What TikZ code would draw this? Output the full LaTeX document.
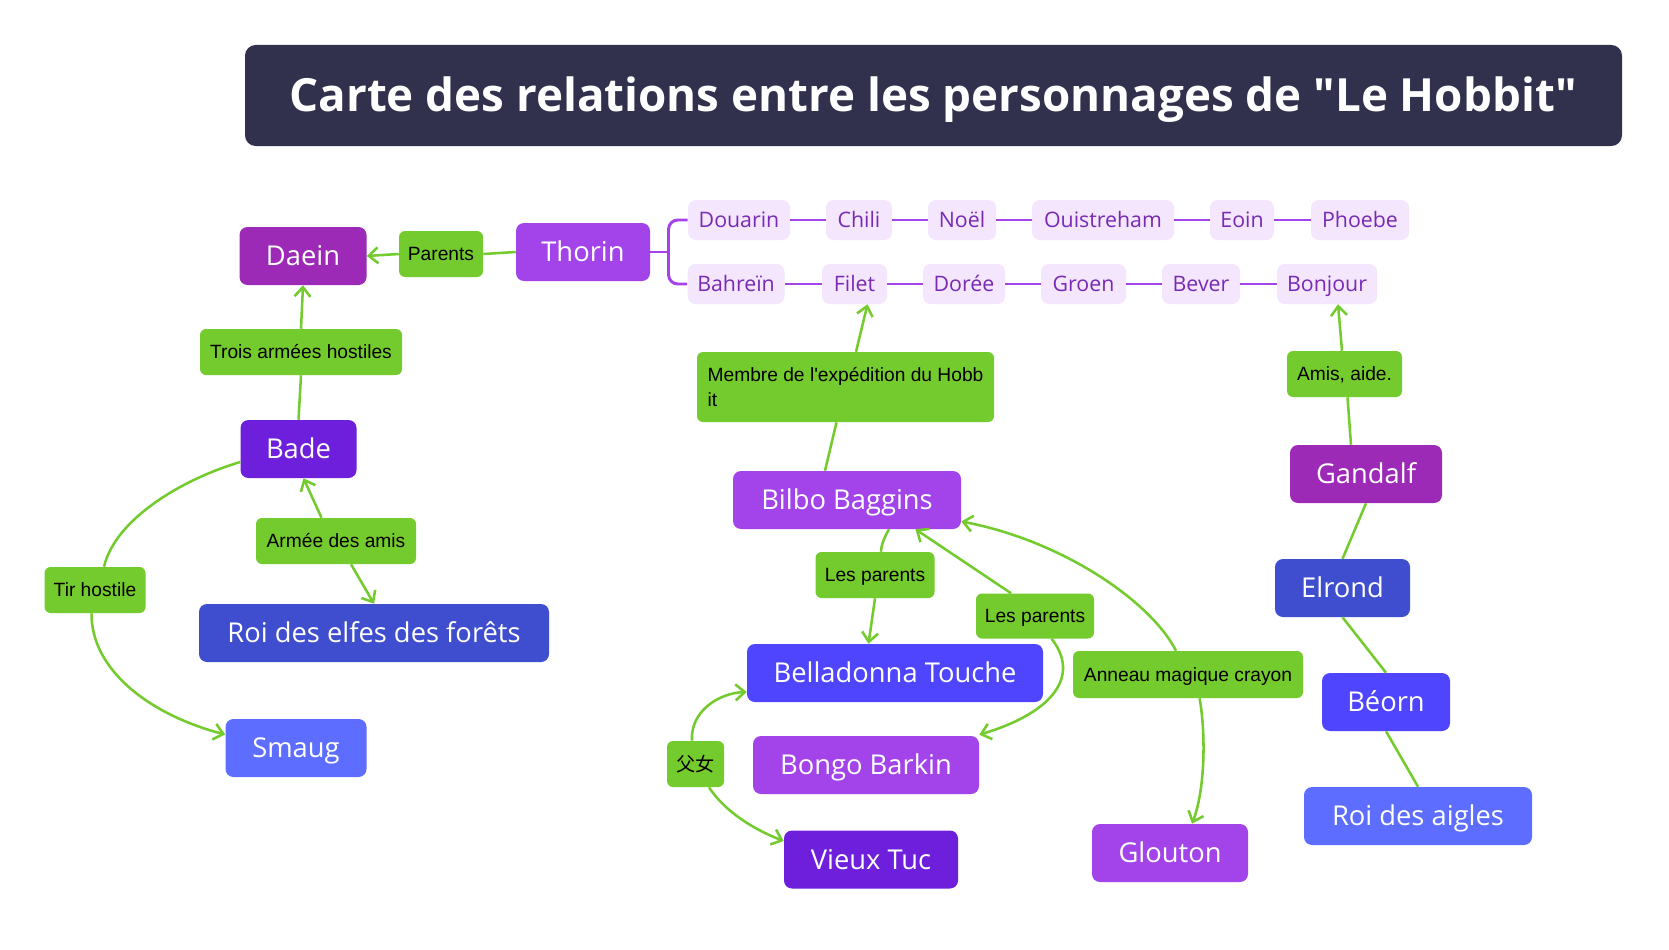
\documentclass[tikz,border=0pt]{standalone}
\usepackage{fontspec}
\setmainfont[Ligatures=TeXOff]{Open Sans}
\newfontfamily\lab[Ligatures=TeXOff]{Liberation Sans}
\newfontfamily\cjk{Noto Sans CJK SC}
\usetikzlibrary{arrows.meta,calc}
\definecolor{titlebg}{RGB}{49,48,77}
\definecolor{cMag}{RGB}{156,42,182}
\definecolor{cViolet}{RGB}{162,68,234}
\definecolor{cDeep}{RGB}{110,31,219}
\definecolor{cIndigo}{RGB}{62,78,206}
\definecolor{cBlue}{RGB}{79,69,255}
\definecolor{cSky}{RGB}{92,109,255}
\definecolor{gr}{RGB}{115,203,46}
\definecolor{lavfill}{RGB}{243,230,253}
\definecolor{lavtext}{RGB}{120,42,180}
\definecolor{lavline}{RGB}{163,68,235}
\begin{document}
\begin{tikzpicture}[x=0.75pt,y=-0.75pt,
  sz/.style 2 args={minimum width=#1*0.75pt, minimum height=#2*0.75pt},
  char/.style={rectangle, rounded corners=6pt, inner sep=0pt, text=white, font=\fontsize{20.5}{24}\selectfont, text height=14.7pt, text depth=0pt},
  mem/.style={rectangle, rounded corners=6pt, inner sep=0pt, fill=lavfill, text=lavtext, font=\fontsize{16}{19}\selectfont, text height=11.5pt, text depth=0pt},
  lblbase/.style={rectangle, rounded corners=4.5pt, inner sep=0pt, fill=gr, text=black, font=\lab\fontsize{14.4}{19}\selectfont},
  lbl/.style={lblbase, text height=10.3pt, text depth=0pt},
  gl/.style={draw=gr, line width=1.9pt},
  arr/.style={gl, -{Straight Barb[length=7pt,width=12pt]}},
  pl/.style={draw=lavline, line width=2.2pt},
]
\useasboundingbox (0,0) rectangle (1669,949);
\fill[white] (0,0) rectangle (1669,949);

% title
\node[fill=titlebg, rounded corners=8pt, inner sep=0pt, sz={1377}{101}, text=white, font=\bfseries\fontsize{34.3}{40}\selectfont, text height=24.6pt, text depth=0pt] (title) at (933.5,95.5) {Carte des relations entre les personnages de "Le Hobbit"};

% characters
\node[char, fill=cMag, sz={127}{58}] (daein) at (303,256) {Daein};
\node[char, fill=cViolet, sz={134}{58}] (thorin) at (583,252) {Thorin};
\node[char, fill=cDeep, sz={116}{58}] (bade) at (298.5,449) {Bade};
\node[char, fill=cIndigo, sz={350}{58}] (elfes) at (374,633) {Roi des elfes des forêts};
\node[char, fill=cSky, sz={141}{58}] (smaug) at (296,748) {Smaug};
\node[char, fill=cViolet, sz={228}{58}] (bilbo) at (847,500) {Bilbo Baggins};
\node[char, fill=cBlue, sz={296}{58}] (bella) at (895,673) {Belladonna Touche};
\node[char, fill=cViolet, sz={226}{58}] (bongo) at (866,765) {Bongo Barkin};
\node[char, fill=cDeep, sz={174}{58}] (vieux) at (871,859.5) {Vieux Tuc};
\node[char, fill=cViolet, sz={156}{58}] (glouton) at (1170,853) {Glouton};
\node[char, fill=cMag, sz={152}{58}] (gandalf) at (1366,474) {Gandalf};
\node[char, fill=cIndigo, sz={135}{58}] (elrond) at (1342.5,588) {Elrond};
\node[char, fill=cBlue, sz={128}{58}] (beorn) at (1386,702) {Béorn};
\node[char, fill=cSky, sz={228}{58}] (aigles) at (1418,816) {Roi des aigles};

% expedition members
\node[mem, sz={102}{40}] (douarin) at (739,220) {Douarin};
\node[mem, sz={66}{40}] (chili) at (859,220) {Chili};
\node[mem, sz={68}{40}] (noel) at (962,220) {Noël};
\node[mem, sz={142}{40}] (ouis) at (1103,220) {Ouistreham};
\node[mem, sz={64}{40}] (eoin) at (1242,220) {Eoin};
\node[mem, sz={98}{40}] (phoebe) at (1360,220) {Phoebe};
\node[mem, sz={97}{40}] (bahrein) at (736,284) {Bahreïn};
\node[mem, sz={65}{40}] (filet) at (854.5,284) {Filet};
\node[mem, sz={82}{40}] (doree) at (964,284) {Dorée};
\node[mem, sz={85}{40}] (groen) at (1083.5,284) {Groen};
\node[mem, sz={78}{40}] (bever) at (1201,284) {Bever};
\node[mem, sz={100}{40}] (bonjour) at (1327,284) {Bonjour};

% labels
\node[lbl, sz={84}{46}] (parents) at (441,254) {Parents};
\node[lbl, sz={202}{46}] (trois) at (301,352) {Trois armées hostiles};
\node[lbl, sz={160}{46}] (armee) at (336,541) {Armée des amis};
\node[lbl, sz={101}{46}] (tir) at (95,590) {Tir hostile};
\node[lblbase, sz={297}{70}, align=left] (membre) at (845.5,387) {Membre de l'expédition du Hobb\\it};
\node[lbl, sz={119}{46}] (lp1) at (875,575) {Les parents};
\node[lbl, sz={118}{45}] (lp2) at (1035,616) {Les parents};
\node[lbl, sz={230}{47}] (anneau) at (1188,674.5) {Anneau magique crayon};
\node[lbl, sz={57}{46}, font=\cjk\fontsize{14.4}{19}\selectfont, text height=11pt] (fuenu) at (695.5,764) {父女};
\node[lbl, sz={115}{46}] (amis) at (1344.5,374) {Amis, aide.};

% member lines
\coordinate (br) at (668.5,252);
\draw[pl] (thorin.east) -- (br);
\draw[pl, rounded corners=7pt] (douarin.west) -| (br) |- (bahrein.west);
\draw[pl] (douarin.east) -- (chili.west);
\draw[pl] (chili.east) -- (noel.west);
\draw[pl] (noel.east) -- (ouis.west);
\draw[pl] (ouis.east) -- (eoin.west);
\draw[pl] (eoin.east) -- (phoebe.west);
\draw[pl] (bahrein.east) -- (filet.west);
\draw[pl] (filet.east) -- (doree.west);
\draw[pl] (doree.east) -- (groen.west);
\draw[pl] (groen.east) -- (bever.west);
\draw[pl] (bever.east) -- (bonjour.west);

% relations
\draw[gl] (thorin.west) -- (parents.east);
\draw[arr] (parents.west) -- (daein.east);
\draw[gl] (bade.north) -- (trois.south);
\draw[arr] (trois.north) -- (daein.south);
\draw[arr] ($(armee.north)+(-14.5,0)$) -- ($(bade.south)+(5,0)$);
\draw[arr] ($(armee.south)+(15,0)$) -- (elfes.north);
\draw[gl] ($(bade.west)+(0,13)$) .. controls (180,480) and (115,520) .. ($(tir.north)+(9,0)$);
\draw[arr] ($(tir.south)+(-3.5,0)$) .. controls (91,670) and (150,715) .. ($(smaug.west)+(0,-13.5)$);

\draw[gl] ($(bilbo.north)+(-22,0)$) -- ($(membre.south)+(-9,0)$);
\draw[arr] ($(membre.north)+(10.5,0)$) -- ($(filet.south)+(13,0)$);
\draw[gl] ($(gandalf.north)+(-15,0)$) -- ($(amis.south)+(3,0)$);
\draw[arr] ($(amis.north)+(-2.5,0)$) -- ($(bonjour.south)+(11,0)$);
\draw[gl] (gandalf.south) -- (elrond.north);
\draw[gl] (elrond.south) -- (beorn.north);
\draw[gl] (beorn.south) -- (aigles.north);

\draw[gl] ($(bilbo.south)+(42,0)$) .. controls (885,536) and (881,545) .. ($(lp1.north)+(6,0)$);
\draw[arr] (lp1.south) -- ($(bella.north)+(-26.5,0)$);
\draw[arr] ($(lp2.north)+(-24,0)$) -- ($(bilbo.south)+(68.5,0)$);
\draw[arr] ($(lp2.south)+(16.6,0)$) .. controls (1080,675) and (1055,712) .. ($(bongo.north east)+(0,-1)$);
\draw[arr] ($(anneau.north)+(-12,0)$) .. controls (1150,600) and (1060,540) .. ($(bilbo.east)+(0,21.5)$);
\draw[arr] ($(anneau.south)+(11.6,0)$) .. controls (1206,735) and (1205,790) .. ($(glouton.north)+(22,0)$);
\draw[arr] ($(fuenu.north)+(-3.5,0)$) .. controls (690,712) and (718,693) .. ($(bella.west)+(0,19)$);
\draw[arr] ($(fuenu.south)+(13.5,0)$) .. controls (725,812) and (755,830) .. ($(vieux.west)+(0,-18.5)$);
\end{tikzpicture}
\end{document}
